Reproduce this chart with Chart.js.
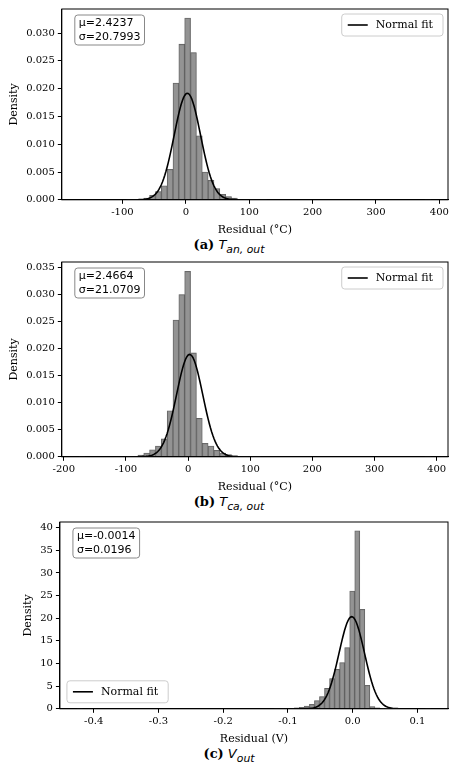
<!DOCTYPE html>
<html><head><meta charset="utf-8">
<script src="https://cdn.jsdelivr.net/npm/chart.js@4"></script>
<style>
body{margin:0;background:#fff;width:458px;font-family:"DejaVu Serif",serif}
.p{position:relative;width:458px}
.cap{text-align:center;font-size:13px;line-height:16px}
.cap i{font-family:"DejaVu Sans",sans-serif}
</style></head><body>
<div class="p" style="height:253px"><div style="height:237px"><canvas id="ca"></canvas></div><div class="cap"><b>(a)</b> <i>T<sub>an, out</sub></i></div></div>
<div class="p" style="height:260px"><div style="height:241px"><canvas id="cb"></canvas></div><div class="cap"><b>(b)</b> <i>T<sub>ca, out</sub></i></div></div>
<div class="p" style="height:254px"><div style="height:233px"><canvas id="cc"></canvas></div><div class="cap"><b>(c)</b> <i>V<sub>out</sub></i></div></div>
<script>
// Panel (a): 60 bins from -168 to 386
const binsA = {lo:-168, hi:386};
const densA = [0,0,0,0,0,0,0,0,0.00002,0.00004,0.0001,0.0003,0.0008,0.0015,0.0025,0.0055,0.021,0.028,0.0327,0.0265,0.0115,0.005,0.0035,0.002,0.001,0.0006,0.0003,0.0001,0.00005,0.00003,0.00002,0.00002,0,0,0,0,0,0,0,0,0,0,0,0,0,0,0,0,0,0,0,0,0,0,0,0,0,0,0,0.00002];
const statsA = {mu:2.4237, sigma:20.7993};
// Panel (b): 60 bins from -175 to 390
const binsB = {lo:-175, hi:390};
const densB = [0.00002,0,0,0,0,0,0,0,0.00002,0.00005,0.0003,0.0007,0.0013,0.002,0.0033,0.0085,0.0253,0.030,0.0343,0.0192,0.0071,0.0025,0.002,0.0012,0.0007,0.0004,0.0002,0.0001,0.00005,0.00003,0.00002,0,0,0,0,0,0,0,0,0,0,0,0,0,0,0,0,0,0,0,0,0,0,0,0,0,0,0,0,0.00002];
const statsB = {mu:2.4664, sigma:21.0709};
// Panel (c): 70 bins from -0.425 to 0.12
const binsC = {lo:-0.425, hi:0.12};
const densC = [0.05,0,0,0,0,0,0,0,0,0,0,0,0,0,0,0,0,0,0,0,0,0,0,0,0,0,0,0,0,0,0,0,0,0,0,0,0,0,0,0.02,0.03,0.05,0.1,0.2,0.3,0.6,1.0,1.8,2.7,4.5,6.7,8.7,10.2,13.5,26,39.3,22,5.2,0.5,0.2,0.1,0.05,0.03,0.02,0,0,0,0,0,0.05];
const statsC = {mu:-0.0014, sigma:0.0196};

const boxPlugin = {
  id:'boxes',
  afterDraw(c, a, o){
    const ctx=c.ctx, ca=c.chartArea;
    ctx.save();
    ctx.font='11px "DejaVu Sans"';
    const l1='\u03bc='+o.mu, l2='\u03c3='+o.sigma;
    const w=Math.max(ctx.measureText(l1).width,ctx.measureText(l2).width)+8;
    const bx=ca.left+13, by=ca.top+6;
    ctx.strokeStyle='#888';ctx.lineWidth=1;ctx.fillStyle='#fff';
    ctx.beginPath();ctx.roundRect(bx,by,w,30,3);ctx.fill();ctx.stroke();
    ctx.fillStyle='#000';ctx.textBaseline='middle';
    ctx.fillText(l1,bx+4,by+8);ctx.fillText(l2,bx+4,by+22);
    ctx.font='11px "DejaVu Serif"';
    const t='Normal fit', lw=ctx.measureText(t).width+44;
    let lx,ly;
    if(o.legend==='tr'){lx=ca.right-lw-5;ly=ca.top+5;} else {lx=ca.left+7;ly=ca.bottom-28;}
    ctx.strokeStyle='#ccc';ctx.fillStyle='rgba(255,255,255,0.85)';
    ctx.beginPath();ctx.roundRect(lx,ly,lw,22,3);ctx.fill();ctx.stroke();
    ctx.strokeStyle='#000';ctx.lineWidth=1.6;
    ctx.beginPath();ctx.moveTo(lx+6,ly+11);ctx.lineTo(lx+26,ly+11);ctx.stroke();
    ctx.fillStyle='#000';ctx.fillText(t,lx+34,ly+11);
    ctx.restore();
  }
};

function make(id, bins, dens, stats, xTitle, yStep, xStep, yDec, xDec, legend, padL, padT){
  const n=dens.length, w=(bins.hi-bins.lo)/n;
  const bars=dens.map((v,i)=>({x:bins.lo+w*(i+0.5), y:v}));
  const line=[];
  for(let i=0;i<=300;i++){const x=bins.lo+(bins.hi-bins.lo)*i/300;
    line.push({x, y:Math.exp(-0.5*((x-stats.mu)/stats.sigma)**2)/(stats.sigma*Math.sqrt(2*Math.PI))});}
  const span=bins.hi-bins.lo;
  const ymax=Math.max(...dens)*1.05;
  const gen=(step)=>(s)=>{const t=[];for(let k=Math.ceil(s.min/step-1e-9);k*step<=s.max+1e-12;k++)t.push({value:+(k*step).toFixed(10)});s.ticks=t;};
  const tf={family:'DejaVu Serif',size:10};
  new Chart(document.getElementById(id),{
    data:{datasets:[
      {type:'line',data:line,borderColor:'#000',borderWidth:1.6,pointRadius:0,tension:0,order:0},
      {type:'bar',data:bars,backgroundColor:'rgba(128,128,128,0.85)',borderColor:'#5a5a5a',borderWidth:0.6,barPercentage:1,categoryPercentage:1,order:1}
    ]},
    options:{responsive:true,maintainAspectRatio:false,animation:false,
      layout:{padding:{top:padT,right:10,left:padL,bottom:0}},
      plugins:{legend:{display:false},tooltip:{enabled:false},boxes:{mu:stats.mu,sigma:stats.sigma,legend}},
      scales:{
        x:{type:'linear',offset:false,min:bins.lo-0.05*span,max:bins.hi+0.05*span,
          afterBuildTicks:gen(xStep),
          ticks:{color:'#000',font:tf,maxRotation:0,autoSkip:false,callback:v=>v.toFixed(xDec)},
          grid:{drawOnChartArea:false,offset:false,tickLength:4,color:'#000'},border:{color:'#000',width:1},
          title:{display:true,text:xTitle,color:'#000',font:{family:'DejaVu Serif',size:11},padding:{top:2,bottom:0}}},
        y:{min:0,max:ymax,afterBuildTicks:gen(yStep),
          ticks:{color:'#000',font:tf,autoSkip:false,callback:v=>v.toFixed(yDec)},
          grid:{drawOnChartArea:false,tickLength:4,color:'#000'},border:{color:'#000',width:1},
          title:{display:true,text:'Density',color:'#000',font:{family:'DejaVu Serif',size:11},padding:{top:0,bottom:2}}}
      }},
    plugins:[boxPlugin,{id:'frame',afterDraw(c){const a=c.chartArea,x=c.ctx;x.save();x.strokeStyle='#000';x.lineWidth=1;x.strokeRect(a.left,a.top,a.right-a.left,a.bottom-a.top);x.restore();}}]
  });
}
make('ca',binsA,densA,statsA,'Residual (\u00b0C)',0.005,100,3,0,'tr',8,4);
make('cb',binsB,densB,statsB,'Residual (\u00b0C)',0.005,100,3,0,'tr',8,4);
make('cc',binsC,densC,statsC,'Residual (V)',5,0.1,0,1,'bl',22,1);
</script></body></html>
